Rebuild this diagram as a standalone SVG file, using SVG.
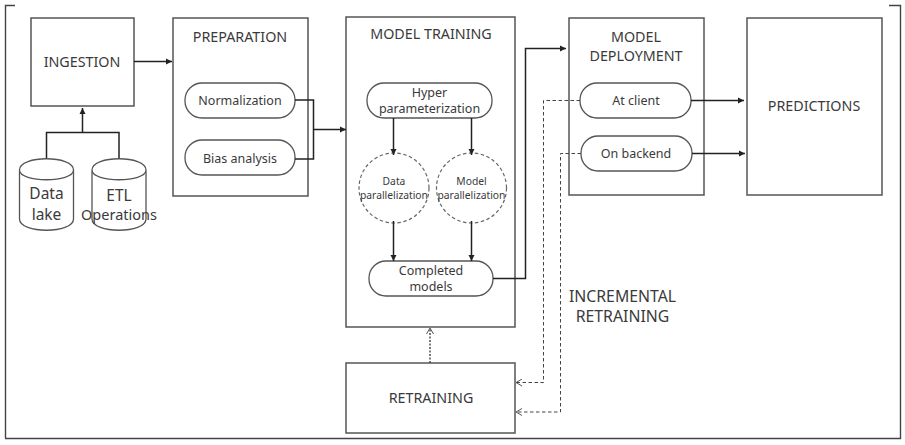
<svg xmlns="http://www.w3.org/2000/svg" width="905" height="445" viewBox="0 0 905 445">
<style>
text{font-family:"Noto Sans","Open Sans","Liberation Sans",sans-serif;fill:#3a3a3a;text-anchor:middle}
.t14{font-size:14.300px}
.t12{font-size:12.500px}
.t9{font-size:10.300px}
.t16{font-size:15.500px}
.box{fill:#fff;stroke:#555;stroke-width:1.5}
.pill{fill:#fff;stroke:#555;stroke-width:1.3}
.circ{fill:none;stroke:#666;stroke-width:1.2;stroke-dasharray:3.5 2.5}
.w{fill:none;stroke:#222;stroke-width:1.5}
.d{fill:none;stroke:#444;stroke-width:1;stroke-dasharray:3.5 2.5}
.frame{fill:none;stroke:#444;stroke-width:1.4}
</style>
<defs>
<marker id="a" markerUnits="userSpaceOnUse" markerWidth="7" markerHeight="8" refX="6" refY="4" orient="auto"><path d="M0 1L6 4L0 7z" fill="#222"/></marker>
<marker id="o" markerUnits="userSpaceOnUse" markerWidth="8" markerHeight="8" refX="7" refY="4" orient="auto"><path d="M1 0.500L7 4L1 7.500" fill="none" stroke="#555" stroke-width="1"/></marker>
</defs>
<g id="frame"><path class="frame" d="M15 5.500H5.500V438M5 438.500H900.500V5.500H889"/></g>
<g id="ingestion"><rect class="box" x="31" y="18" width="103" height="88"/><text class="t14" x="82" y="67">INGESTION</text></g>
<g id="data-lake"><path class="pill" d="M19.500 170V219C19.500 234 73.500 234 73.500 219V170C73.500 155 19.500 155 19.500 170C19.500 183 73.500 183 73.500 170"/><text class="t16" x="46.500" y="199">Data</text><text class="t16" x="46.500" y="220">lake</text></g>
<g id="etl"><path class="pill" d="M92 170V219C92 234 146 234 146 219V170C146 155 92 155 92 170C92 183 146 183 146 170"/><text class="t16" x="119" y="201">ETL</text><text x="119" y="220" style="font-size:14.500px">Operations</text></g>
<g id="preparation"><rect class="box" x="173" y="18" width="135" height="178"/><text class="t14" x="240" y="42">PREPARATION</text></g>
<g id="normalization"><rect class="pill" x="185" y="83" width="110" height="35" rx="17"/><text class="t12" x="240" y="105">Normalization</text></g>
<g id="bias-analysis"><rect class="pill" x="185" y="140" width="110" height="35" rx="17"/><text class="t12" x="240" y="163">Bias analysis</text></g>
<g id="model-training"><rect class="box" x="346" y="17" width="169" height="310"/><text class="t14" x="431" y="39">MODEL TRAINING</text></g>
<g id="hyper"><rect class="pill" x="367" y="83" width="125" height="35" rx="17"/><text class="t12" x="429.500" y="97">Hyper</text><text class="t12" x="429.500" y="112.500">parameterization</text></g>
<g id="data-par"><circle class="circ" cx="394" cy="188" r="35"/><text class="t9" x="394" y="185">Data</text><text class="t9" x="394" y="198.500">parallelization</text></g>
<g id="model-par"><circle class="circ" cx="471.500" cy="188" r="35"/><text class="t9" x="471.500" y="185">Model</text><text class="t9" x="471.500" y="198.500">parallelization</text></g>
<g id="completed"><rect class="pill" x="369" y="261" width="124" height="35" rx="17"/><text class="t12" x="431" y="275">Completed</text><text class="t12" x="431" y="291">models</text></g>
<g id="deployment"><rect class="box" x="569" y="18" width="135" height="177"/><text class="t14" x="636" y="42">MODEL</text><text class="t14" x="636" y="60.500">DEPLOYMENT</text></g>
<g id="at-client"><rect class="pill" x="580" y="83" width="111" height="35" rx="17"/><text class="t12" x="636" y="105">At client</text></g>
<g id="on-backend"><rect class="pill" x="581" y="136" width="111" height="35" rx="17"/><text class="t12" x="636" y="158">On backend</text></g>
<g id="predictions"><rect class="box" x="747" y="18" width="135" height="177"/><text class="t14" x="814" y="111">PREDICTIONS</text></g>
<g id="retraining"><rect class="box" x="346" y="363" width="169" height="70"/><text class="t14" x="431" y="403">RETRAINING</text></g>
<g id="incremental-label"><text x="622.500" y="301.500" style="font-size:15.800px">INCREMENTAL</text><text x="622.500" y="322" style="font-size:15.800px">RETRAINING</text></g>
<g id="connectors">
<path class="w" marker-end="url(#a)" d="M134 61.500H172"/>
<path class="w" d="M46.500 158V132.500H119V158"/>
<path class="w" marker-end="url(#a)" d="M82.500 132.500V108"/>
<path class="w" d="M295 100H313.500V159H295"/>
<path class="w" marker-end="url(#a)" d="M313.500 129.500H346"/>
<path class="w" marker-end="url(#a)" d="M393.500 118V155"/>
<path class="w" marker-end="url(#a)" d="M471.500 118V155"/>
<path class="w" marker-end="url(#a)" d="M393.500 221V261"/>
<path class="w" marker-end="url(#a)" d="M471.500 221V261"/>
<path class="w" marker-end="url(#a)" d="M493 278.500H525.500V48.500H566"/>
<path class="w" marker-end="url(#a)" d="M691 100.500H744"/>
<path class="w" marker-end="url(#a)" d="M692 153.500H745"/>
<path class="d" d="M580 100.500H543.500V382.500H516" marker-end="url(#o)"/>
<path class="d" d="M581 153.500H560.500V412H516" marker-end="url(#o)"/>
<path class="d" style="stroke-width:1.400;stroke-dasharray:2 1.500" d="M430 363V328" marker-end="url(#o)"/>
</g>
</svg>
